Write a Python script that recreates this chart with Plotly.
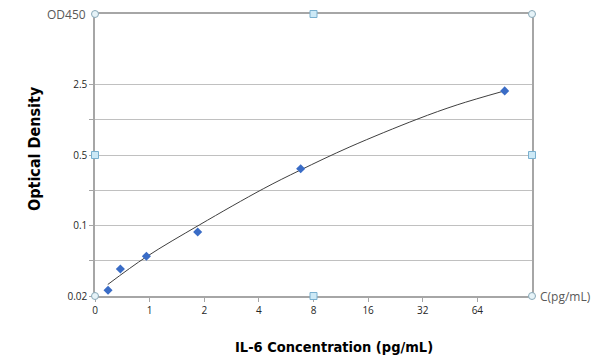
import math
import plotly.graph_objects as go

conc = [0.59, 0.69, 0.96, 1.84, 6.8, 90.5]
od = [0.0228, 0.037, 0.0496, 0.0863, 0.365, 2.16]

# Fitted curve
fit_conc = [0.588, 0.959, 1.889, 4.225, 6.74, 12.7, 29.7, 49.5, 89.4]
fit_od = [0.026, 0.0489, 0.1018, 0.231, 0.353, 0.602, 1.129, 1.57, 2.15]

x_tickvals = [0.5, 1, 2, 4, 8, 16, 32, 64]
x_ticktext = ["0", "1", "2", "4", "8", "16", "32", "64"]
y_tickvals = [0.02, 0.02 * 5 ** 0.5, 0.1, 0.1 * 5 ** 0.5, 0.5, 0.5 * 5 ** 0.5, 2.5]
y_ticktext = ["0.02", "", "0.1", "", "0.5", "", "2.5"]

x_range = [0.5, 128]
y_range = [0.02, 12.5]

fig = go.Figure()
fig.add_trace(go.Scatter(x=fit_conc, y=fit_od, mode="lines",
                         line=dict(color="#3f3f3f", width=1, shape="spline", smoothing=1.0),
                         hoverinfo="skip", showlegend=False))
fig.add_trace(go.Scatter(x=conc, y=od, mode="markers",
                         marker=dict(symbol="diamond", size=7, color="#3a6cc6"), showlegend=False))

tickfont = dict(family="Open Sans, sans-serif", size=10, color="#262626")
fig.update_xaxes(type="log", range=[math.log10(v) for v in x_range], tickvals=x_tickvals, ticktext=x_ticktext,
                 showgrid=False, showline=True, linecolor="#a6a6a6", linewidth=1.5, mirror=True,
                 ticks="outside", ticklen=4, tickcolor="#a6a6a6", tickfont=tickfont, zeroline=False)
fig.update_yaxes(type="log", range=[math.log10(v) for v in y_range], tickvals=y_tickvals, ticktext=y_ticktext,
                 showgrid=True, gridcolor="#c0c0c0", gridwidth=1, showline=True, linecolor="#a6a6a6",
                 linewidth=1.5, mirror=True, ticks="outside", ticklen=4, tickcolor="#a6a6a6",
                 tickfont=tickfont, zeroline=False)

W, H = 600, 362
ml, mr, mt, mb = 95, 68, 14, 66
pw, ph = W - ml - mr, H - mt - mb

titlefont = "DejaVu Sans Condensed, Roboto, sans-serif"
annotations = [
    dict(text="OD450", x=0, xref="x domain", y=1, yref="y domain", xanchor="right", yanchor="middle",
         xshift=-7, showarrow=False, font=dict(family="Open Sans, sans-serif", size=12, color="#595959")),
    dict(text="C(pg/mL)", x=1, xref="x domain", y=0, yref="y domain", xanchor="left", yanchor="middle",
         xshift=6, showarrow=False, font=dict(family="Open Sans, sans-serif", size=12, color="#595959")),
    dict(text="<b>IL-6 Concentration (pg/mL)</b>", x=334, xref="paper", y=347, yref="paper",
         showarrow=False, xanchor="center", yanchor="middle",
         font=dict(family=titlefont, size=14.5, color="#000000")),
    dict(text="<b>Optical Density</b>", x=34, xref="paper", y=149, yref="paper", textangle=-90,
         showarrow=False, xanchor="center", yanchor="middle",
         font=dict(family=titlefont, size=16, color="#000000")),
]
for a in annotations:
    if a["xref"] == "paper":
        a["x"] = (a["x"] - ml) / pw
        a["y"] = 1 - (a["y"] - mt) / ph

shapes = []
def handle(xd, yd, kind):
    r = 3.5
    shapes.append(dict(type="circle" if kind == "c" else "rect", xref="x domain", yref="y domain",
                       xsizemode="pixel", ysizemode="pixel", xanchor=xd, yanchor=yd,
                       x0=-r, x1=r, y0=-r, y1=r,
                       fillcolor="#e6f3f8" if kind == "c" else "#cde9f6",
                       line=dict(color="#8aa9b8" if kind == "c" else "#7ab0cf", width=1)))
for xd, yd in [(0, 1), (1, 1), (1, 0), (0, 0)]:
    handle(xd, yd, "c")
for xd, yd in [(0.5, 1), (0, 0.5), (1, 0.5), (0.5, 0)]:
    handle(xd, yd, "s")

fig.update_layout(width=W, height=H, margin=dict(l=ml, r=mr, t=mt, b=mb),
                  paper_bgcolor="white", plot_bgcolor="white",
                  annotations=annotations, shapes=shapes, showlegend=False)
fig.write_html("out.html", config={"displayModeBar": False},
               post_script="document.body.style.margin='0';document.body.style.overflow='hidden';")
